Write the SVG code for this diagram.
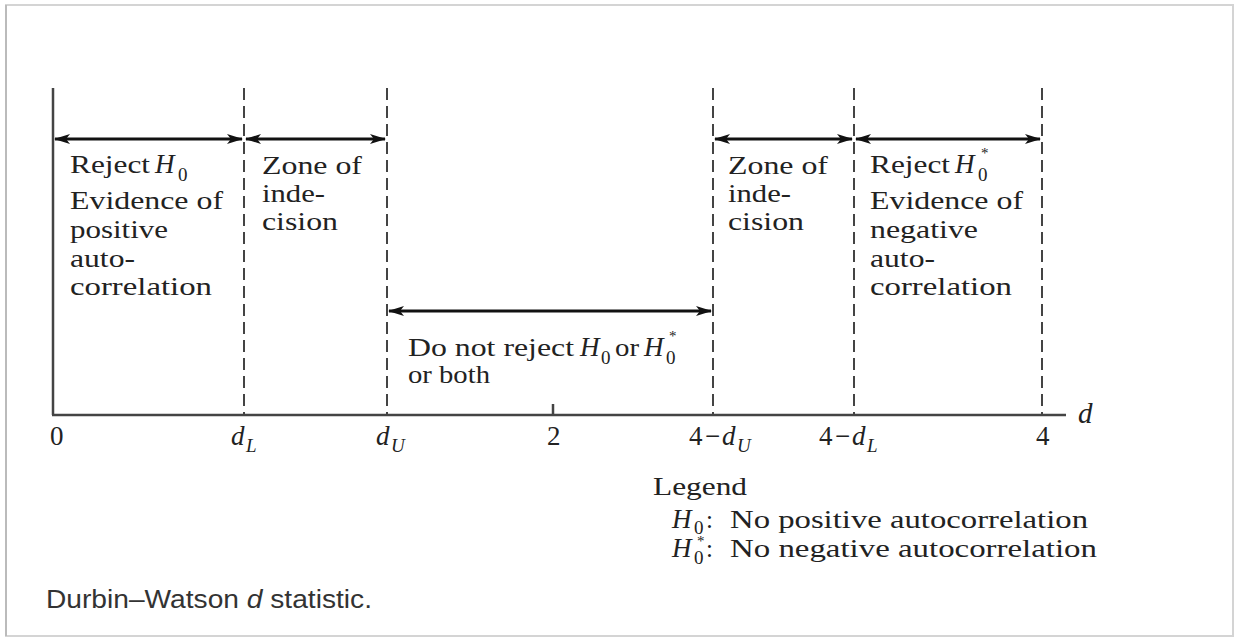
<svg xmlns="http://www.w3.org/2000/svg" width="1234" height="639" viewBox="0 0 1234 639">
<style>
.t{font-family:"Liberation Serif","Times New Roman",serif;font-size:25px;fill:#222}
.ax{font-size:27px}
.it{font-style:italic}
.sub{font-size:19px}
.sup{font-size:15px}
.cap{font-family:"Liberation Sans",Arial,sans-serif;font-size:25px;fill:#333}
.dash{stroke:#444;stroke-width:2;stroke-dasharray:12 6;fill:none}
.solid{stroke:#444;stroke-width:2.5;fill:none}
.arr{stroke:#111;stroke-width:3;fill:none;marker-start:url(#ah);marker-end:url(#ah)}
</style>
<defs>
<marker id="ah" viewBox="0 0 16 10" refX="15" refY="5" markerWidth="16" markerHeight="10" markerUnits="userSpaceOnUse" orient="auto-start-reverse">
<path d="M0,0 L16,5 L0,10 L4,5 Z" fill="#111"/>
</marker>
</defs>
<rect x="0" y="0" width="1234" height="639" fill="#fff"/>
<g id="frame">
<rect x="6" y="5" width="1227" height="631" fill="#fff" stroke="#d4d4d4" stroke-width="2"/>
<line x1="6" y1="5" x2="6" y2="636" stroke="#bbb" stroke-width="2"/>
</g>
<g id="axes">
<line class="solid" x1="53" y1="88" x2="53" y2="415"/>
<line class="solid" x1="52" y1="415" x2="1066" y2="415"/>
<line class="solid" x1="553" y1="404" x2="553" y2="415"/>
<line class="dash" x1="244" y1="88" x2="244" y2="415"/>
<line class="dash" x1="387" y1="88" x2="387" y2="415"/>
<line class="dash" x1="713" y1="88" x2="713" y2="415"/>
<line class="dash" x1="854" y1="88" x2="854" y2="415"/>
<line class="dash" x1="1042" y1="88" x2="1042" y2="415"/>
</g>
<g id="connectors">
<line class="arr" x1="55" y1="139" x2="242" y2="139"/>
<line class="arr" x1="246" y1="139" x2="385" y2="139"/>
<line class="arr" x1="715" y1="139" x2="852" y2="139"/>
<line class="arr" x1="856" y1="139" x2="1040" y2="139"/>
<line class="arr" x1="389" y1="311" x2="711" y2="311"/>
</g>
<g id="reject-h0">
<text class="t" x="70" y="173" textLength="80" lengthAdjust="spacingAndGlyphs">Reject</text>
<text class="t it ax" x="155" y="173">H</text>
<text class="t sub" x="178" y="181">0</text>
<text class="t" x="70" y="209" textLength="153" lengthAdjust="spacingAndGlyphs">Evidence of</text>
<text class="t" x="70" y="238" textLength="98" lengthAdjust="spacingAndGlyphs">positive</text>
<text class="t" x="70" y="267" textLength="65" lengthAdjust="spacingAndGlyphs">auto-</text>
<text class="t" x="70" y="295" textLength="142" lengthAdjust="spacingAndGlyphs">correlation</text>
</g>
<g id="zone-left">
<text class="t" x="262" y="174" textLength="100" lengthAdjust="spacingAndGlyphs">Zone of</text>
<text class="t" x="262" y="202" textLength="63" lengthAdjust="spacingAndGlyphs">inde-</text>
<text class="t" x="262" y="230" textLength="76" lengthAdjust="spacingAndGlyphs">cision</text>
</g>
<g id="zone-right">
<text class="t" x="728" y="174" textLength="100" lengthAdjust="spacingAndGlyphs">Zone of</text>
<text class="t" x="728" y="202" textLength="63" lengthAdjust="spacingAndGlyphs">inde-</text>
<text class="t" x="728" y="230" textLength="76" lengthAdjust="spacingAndGlyphs">cision</text>
</g>
<g id="reject-h0star">
<text class="t" x="870" y="173" textLength="80" lengthAdjust="spacingAndGlyphs">Reject</text>
<text class="t it ax" x="955" y="173">H</text>
<text class="t sup" x="981" y="158">*</text>
<text class="t sub" x="978" y="181">0</text>
<text class="t" x="870" y="209" textLength="153" lengthAdjust="spacingAndGlyphs">Evidence of</text>
<text class="t" x="870" y="238" textLength="108" lengthAdjust="spacingAndGlyphs">negative</text>
<text class="t" x="870" y="267" textLength="65" lengthAdjust="spacingAndGlyphs">auto-</text>
<text class="t" x="870" y="295" textLength="142" lengthAdjust="spacingAndGlyphs">correlation</text>
</g>
<g id="do-not-reject">
<text class="t" x="408" y="356" textLength="166" lengthAdjust="spacingAndGlyphs">Do not reject</text>
<text class="t it ax" x="580" y="356">H</text>
<text class="t sub" x="601" y="364">0</text>
<text class="t" x="615" y="356" textLength="24" lengthAdjust="spacingAndGlyphs">or</text>
<text class="t it ax" x="644" y="356">H</text>
<text class="t sup" x="669" y="341">*</text>
<text class="t sub" x="666" y="364">0</text>
<text class="t" x="408" y="383" textLength="82" lengthAdjust="spacingAndGlyphs">or both</text>
</g>
<g id="axis-labels">
<text class="t ax" x="50" y="445">0</text>
<text class="t it ax" x="231" y="445">d</text>
<text class="t it sub" x="246" y="452">L</text>
<text class="t it ax" x="376" y="445">d</text>
<text class="t it sub" x="391" y="452">U</text>
<text class="t ax" x="547" y="445">2</text>
<text class="t ax" x="689" y="445">4</text>
<text class="t ax" x="705" y="445">−</text>
<text class="t it ax" x="722" y="445">d</text>
<text class="t it sub" x="737" y="452">U</text>
<text class="t ax" x="819" y="445">4</text>
<text class="t ax" x="835" y="445">−</text>
<text class="t it ax" x="852" y="445">d</text>
<text class="t it sub" x="867" y="452">L</text>
<text class="t ax" x="1036" y="445">4</text>
<text class="t it" x="1078" y="423" style="font-size:29px">d</text>
</g>
<g id="legend">
<text class="t" x="653" y="495" textLength="94" lengthAdjust="spacingAndGlyphs">Legend</text>
<text class="t it ax" x="672" y="528">H</text>
<text class="t sub" x="694" y="534">0</text>
<text class="t" x="706" y="528">:</text>
<text class="t" x="730" y="528" textLength="358" lengthAdjust="spacingAndGlyphs">No positive autocorrelation</text>
<text class="t it ax" x="672" y="557">H</text>
<text class="t sup" x="697" y="546">*</text>
<text class="t sub" x="694" y="564">0</text>
<text class="t" x="706" y="557">:</text>
<text class="t" x="730" y="557" textLength="367" lengthAdjust="spacingAndGlyphs">No negative autocorrelation</text>
</g>
<g id="caption">
<text class="cap" x="46" y="608" textLength="326" lengthAdjust="spacingAndGlyphs">Durbin–Watson <tspan font-style="italic">d</tspan> statistic.</text>
</g>
</svg>
